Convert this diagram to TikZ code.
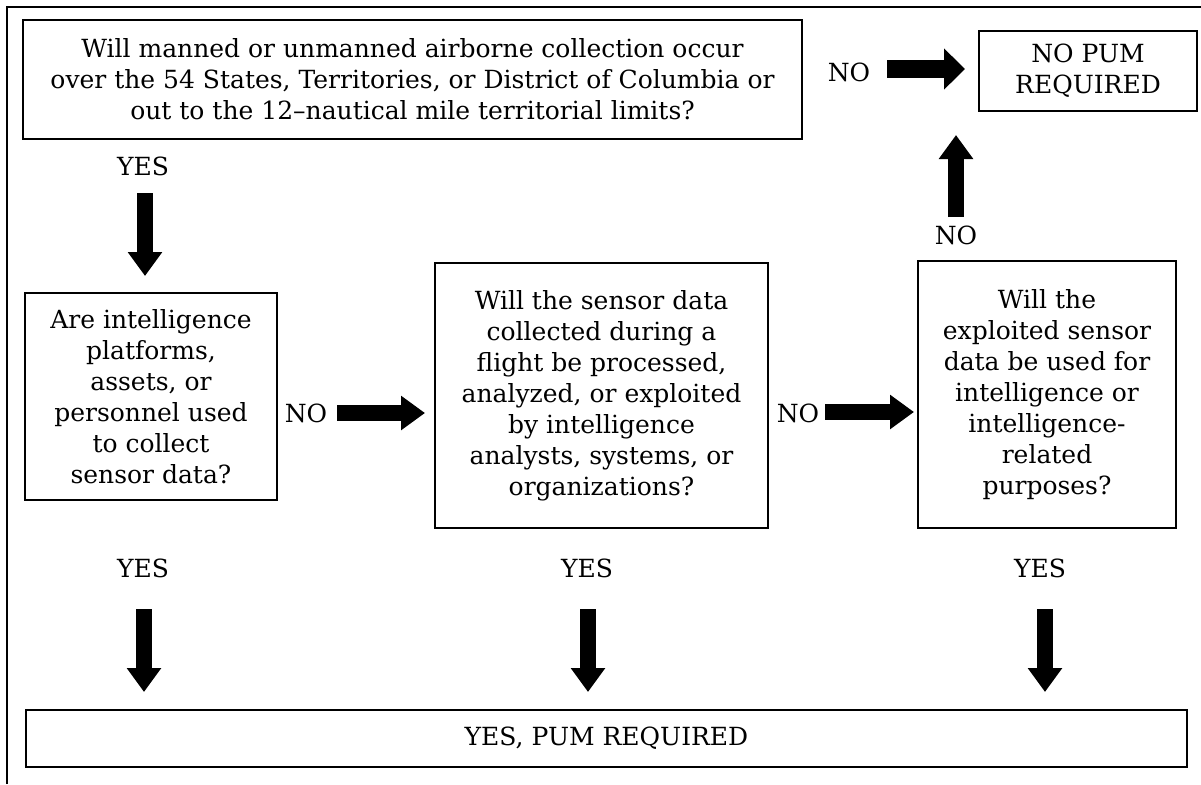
\documentclass[tikz,border=0pt]{standalone}
\usepackage{fontspec}
\setmainfont{DejaVu Serif}
\usetikzlibrary{arrows.meta}

\begin{document}
\begin{tikzpicture}[
    x=0.5pt, y=-0.5pt,
    every node/.style={font=\fontsize{12.5pt}{15.5pt}\selectfont, align=center, inner sep=0pt},
    qbox/.style={draw, line width=1pt},
    frame line/.style={line width=1pt},
    block arrow/.style={line width=8pt, -{Triangle[width=16.5pt, length=12pt]}},
    wide arrow/.style={line width=9pt, -{Triangle[width=20pt, length=10.5pt]}}
    ]
    \useasboundingbox (0,0) rectangle (1201,784);

    % outer frame
    \draw[frame line] (7,784) |- (1201,7);

    % question boxes
    \node[qbox, minimum width=389.5pt, minimum height=59.5pt] (airborne) at (412.5,79.5)
        {Will manned or unmanned airborne collection occur\\
         over the 54 States, Territories, or District of Columbia or\\
         out to the 12--nautical mile territorial limits?};
    \node[qbox, minimum width=109pt, minimum height=40pt] (nopum) at (1088,71)
        {NO PUM\\REQUIRED};
    \node[qbox, minimum width=126pt, minimum height=103.5pt] (platforms) at (151,396.5)
        {Are intelligence\\platforms,\\assets, or\\personnel used\\to collect\\sensor data?};
    \node[qbox, minimum width=166.5pt, minimum height=132.5pt] (analysts) at (601.5,395.5)
        {Will the sensor data\\collected during a\\flight be processed,\\analyzed, or exploited\\
         by intelligence\\analysts, systems, or\\organizations?};
    \node[qbox, minimum width=129pt, minimum height=133.5pt] (purposes) at (1047,394.5)
        {Will the\\exploited sensor\\data be used for\\intelligence or\\intelligence-\\related\\purposes?};
    \node[qbox, minimum width=580.5pt, minimum height=28.5pt] (pumreq) at (606.5,738.5)
        {YES, PUM REQUIRED};

    % answer labels
    \node (yes0) at (143,166) {YES};
    \node (no0) at (849,72) {NO};
    \node (no3) at (956,235) {NO};
    \node (no1) at (306,413) {NO};
    \node (no2) at (798,413) {NO};
    \node (yes1) at (143,568) {YES};
    \node (yes2) at (587,568) {YES};
    \node (yes3) at (1040,568) {YES};

    % arrow ends
    \coordinate (a0s) at (145,193);
    \coordinate (a0e) at (145,276);
    \coordinate (b0s) at (887,69);
    \coordinate (b0e) at (965,69);
    \coordinate (c0s) at (956,217);
    \coordinate (c0e) at (956,135);
    \coordinate (d1s) at (337,413);
    \coordinate (d1e) at (425,413);
    \coordinate (d2s) at (825,412);
    \coordinate (d2e) at (914,412);
    \coordinate (e1s) at (144,609);
    \coordinate (e1e) at (144,692);
    \coordinate (e2s) at (588,609);
    \coordinate (e2e) at (588,692);
    \coordinate (e3s) at (1045,609);
    \coordinate (e3e) at (1045,692);

    % arrows
    \draw[block arrow] (a0s) -- (a0e);
    \draw[wide arrow] (b0s) -- (b0e);
    \draw[block arrow] (c0s) -- (c0e);
    \draw[block arrow] (d1s) -- (d1e);
    \draw[block arrow] (d2s) -- (d2e);
    \draw[block arrow] (e1s) -- (e1e);
    \draw[block arrow] (e2s) -- (e2e);
    \draw[block arrow] (e3s) -- (e3e);
\end{tikzpicture}
\end{document}
